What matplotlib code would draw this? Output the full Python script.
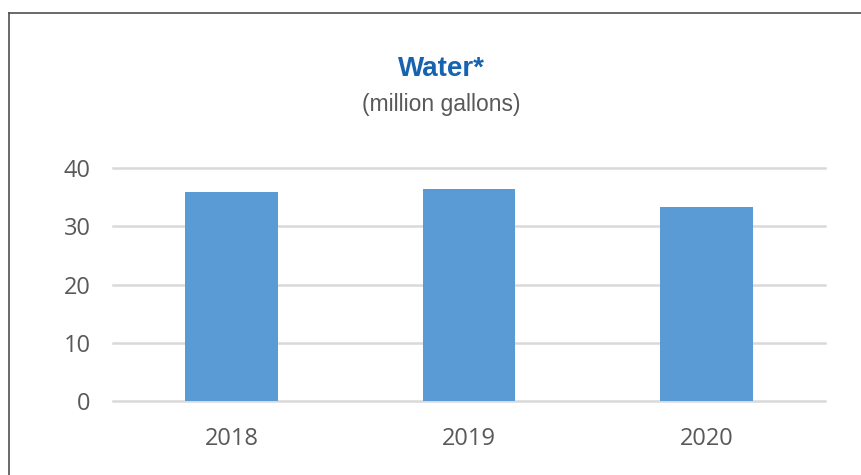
import matplotlib
matplotlib.use("Agg")
import numpy as np
from matplotlib import pyplot as plt
from matplotlib.lines import Line2D

years = ["2018", "2019", "2020"]
water = [35.9, 36.4, 33.3]
yticks = [0, 10, 20, 30, 40]

fig = plt.figure(figsize=(8.62, 4.75), dpi=100)
ax = fig.add_axes([113 / 862, 1 - 401 / 475, 712 / 862, (401 - 168) / 475])

x = np.arange(len(years))
ax.bar(x, water, width=0.39, color="#5B9BD5", zorder=3)
ax.set_xlim(-0.5, len(years) - 0.5)
ax.set_ylim(0, 40)
ax.set_yticks(yticks)
ax.set_xticks(x)
ax.set_xticklabels(years)
for v in yticks:
    ax.axhline(v, color="#d9d9d9", linewidth=1.8, zorder=0, clip_on=False)
for s in ax.spines.values():
    s.set_visible(False)
ax.tick_params(length=0, labelsize=17, labelcolor="#595959", pad=16)
ax.tick_params(axis="x", pad=19)
for lab in ax.get_xticklabels() + ax.get_yticklabels():
    lab.set_family(["Open Sans", "DejaVu Sans"])

fig.text(441 / 862, 1 - 69 / 475, "Water*", ha="center", va="center",
         fontsize=20, fontweight="heavy", color="#1763b0",
         family=["Liberation Sans", "DejaVu Sans"])
fig.text(441 / 862, 1 - 104 / 475, "(million gallons)", ha="center", va="center",
         fontsize=16.5, color="#595959",
         family=["Liberation Sans", "DejaVu Sans"])

# frame lines at left and top
fig.add_artist(Line2D([9.5 / 862, 9.5 / 862], [0, 1 - 12.5 / 475], transform=fig.transFigure,
                      color="#505050", linewidth=1.2))
fig.add_artist(Line2D([9.5 / 862, 1], [1 - 12.5 / 475, 1 - 12.5 / 475], transform=fig.transFigure,
                      color="#505050", linewidth=1.2))

fig.savefig("out.png", dpi=100)
